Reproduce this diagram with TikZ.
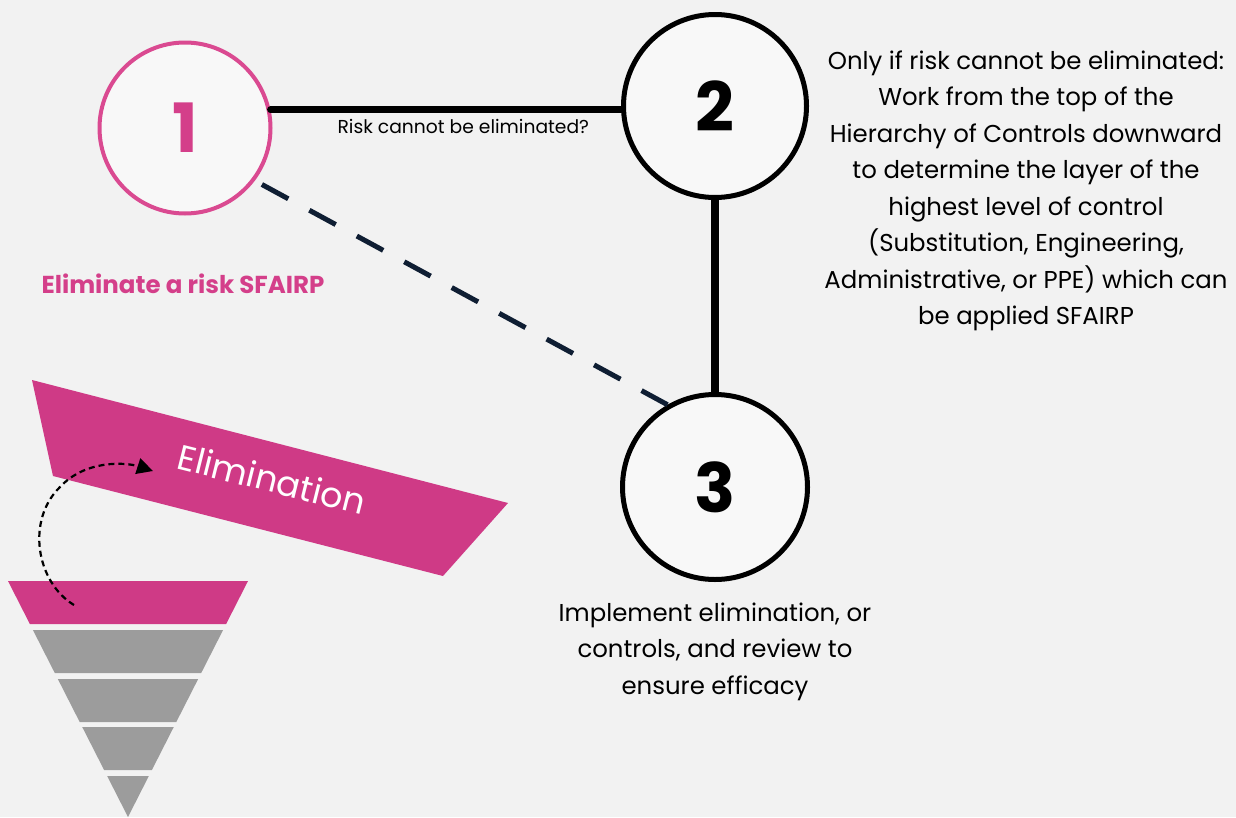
\documentclass[tikz,border=0pt]{standalone}
\usepackage{fontspec}
\setmainfont{Poppins}
\usepackage{xcolor}
\usetikzlibrary{positioning}
\usetikzlibrary{arrows.meta}
\definecolor{paper}{HTML}{F2F2F2}
\definecolor{disc}{HTML}{F8F8F8}
\definecolor{magenta}{HTML}{CF3A86}
\definecolor{rosering}{HTML}{DA4A91}
\definecolor{rosetext}{HTML}{D43F8A}
\definecolor{tier}{HTML}{9C9C9C}
\definecolor{navy}{HTML}{0F1E33}
\tikzstyle{stage}=[circle, fill=disc, draw=black, line width=5pt, inner sep=0pt, font=\fontsize{68}{68}\selectfont\bfseries]
\tikzstyle{note}=[align=center, font=\fontsize{24.4}{36.5}\selectfont]
\tikzstyle{link}=[draw=black, line width=7pt, line cap=round]
\tikzstyle{fallback}=[draw=navy, line width=5pt, dash pattern=on 30pt off 24pt]
\tikzstyle{hop}=[draw=black, line width=2.2pt, dash pattern=on 6pt off 4pt, -{Triangle[length=16pt, width=16pt]}]

\begin{document}
\begin{tikzpicture}[x=1pt, y=-1pt]
    \fill[paper] (0,0) rectangle (1236,817);
    \useasboundingbox (0,0) rectangle (1236,817);

    % hierarchy funnel
    \foreach \ytop [count=\i] in {581,630,679,727,776} {
      \pgfmathsetmacro{\ybot}{min(\ytop+43,817)}
      \pgfmathsetmacro{\wtop}{(817-\ytop)/236*120}
      \pgfmathsetmacro{\wbot}{(817-\ybot)/236*120}
      \ifnum\i=1 \def\tiercol{magenta}\else\def\tiercol{tier}\fi
      \fill[\tiercol] (128-\wtop,\ytop) -- (128+\wtop,\ytop) -- (128+\wbot,\ybot) -- (128-\wbot,\ybot) -- cycle;
    }

    % pulled-out top layer
    \fill[magenta] (32,380) -- (508,503) -- (443,576) -- (53,476) -- cycle;
    \node[rotate=-14, text=white, font=\fontsize{35}{35}\selectfont] (elimlabel) at (272,479) {Elimination};

    \coordinate (hopstart) at (74,605);
    \coordinate (hopend)   at (153,471);
    \draw[hop] (hopstart) .. controls (36,582) and (26,520) .. (60,487) .. controls (85,460) and (125,462) .. (hopend);

    % steps
    \node[stage, draw=rosering, line width=4pt, minimum size=171pt, text=rosetext] (s1) at (185,128) {1};
    \node[stage, minimum size=183pt] (s2) at (715,106) {2};
    \node[stage, minimum size=185pt] (s3) at (715,487) {3};

    \draw[link] (s1.12) -- (s1.12 -| s2.west) node[pos=0.55, below=3pt, font=\fontsize{18.7}{18.7}\selectfont] (asklabel) {Risk cannot be eliminated?};
    \draw[link, line width=8pt, line cap=butt] (s2) -- (s3);
    \draw[fallback, shorten <=8pt] (s1.-37) -- (s3.120);

    \node[font=\fontsize{24.5}{24.5}\selectfont\bfseries, text=rosetext] (goal) at (183,284) {Eliminate a risk SFAIRP};
    \node[note] (controlsnote) at (1026,191) {Only if risk cannot be eliminated:\\Work from the top of the\\Hierarchy of Controls downward\\to determine the layer of the\\highest level of control\\(Substitution, Engineering,\\Administrative, or PPE) which can\\be applied SFAIRP};
    \node[note] (reviewnote) [below = 17pt of s3] {Implement elimination, or\\controls, and review to\\ensure efficacy};
  \end{tikzpicture}
\end{document}
